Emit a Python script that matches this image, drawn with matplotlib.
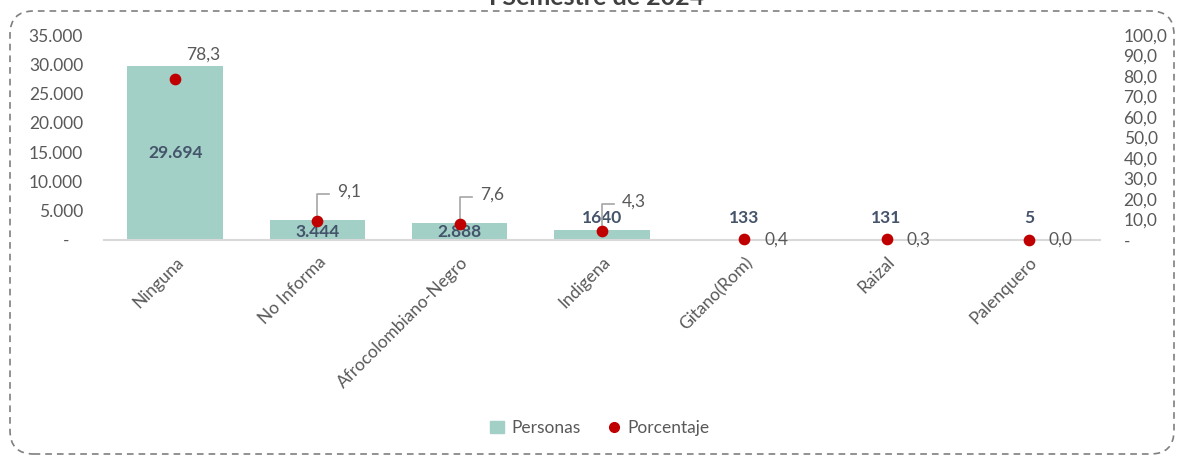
import matplotlib.pyplot as plt
import matplotlib.transforms as mtransforms
from matplotlib.patches import FancyBboxPatch
from matplotlib.lines import Line2D
from matplotlib.patches import Patch

plt.rcParams['font.family'] = ['Lato', 'DejaVu Sans']

categorias = ["Ninguna", "No Informa", "Afrocolombiano-Negro", "Indigena",
              "Gitano(Rom)", "Raizal", "Palenquero"]
personas = [29694, 3444, 2888, 1640, 133, 131, 5]
etiquetas_personas = ["29.694", "3.444", "2.888", "1640", "133", "131", "5"]
porcentaje = [78.3, 9.1, 7.6, 4.3, 0.4, 0.3, 0.0]

bar_color = "#A2CFC6"
dot_color = "#C00000"
lbl_color = "#44546A"
tick_color = "#595959"
fs = 12.5

fig = plt.figure(figsize=(11.79, 4.57), dpi=100)
ax = fig.add_axes([104 / 1179, 1 - 240 / 457, (1100 - 104) / 1179, 205 / 457])
ax2 = ax.twinx()

x = list(range(len(categorias)))
ax.bar(x, personas, width=0.67, color=bar_color, zorder=2)
ax.set_xlim(-0.5, len(categorias) - 0.5)
ax.set_ylim(0, 35000)
ax.set_yticks(range(0, 35001, 5000))
ax.set_yticklabels(["-   "] + [f"{v:,}".replace(",", ".") for v in range(5000, 35001, 5000)])
ax.set_xticks(x)
ax.set_xticklabels(categorias, rotation=45, ha="right", rotation_mode="anchor")

ax2.set_ylim(0, 100)
ax2.set_yticks(range(0, 101, 10))
ax2.set_yticklabels(["-"] + [f"{v},0" for v in range(10, 101, 10)])
ax2.scatter(x, porcentaje, s=55, color=dot_color, zorder=5, clip_on=False)

for a in (ax, ax2):
    for s in ["top", "right", "left"]:
        a.spines[s].set_visible(False)
    a.spines["bottom"].set_color("#D9D9D9")
    a.spines["bottom"].set_linewidth(1.5)
    a.tick_params(length=0, colors=tick_color, labelsize=fs)
ax.tick_params(axis="y", pad=15)
ax.tick_params(axis="x", pad=10)
ax2.tick_params(axis="y", pad=17)
ax2.spines["bottom"].set_visible(False)

# etiquetas de personas
for i, v in enumerate(personas):
    if v > 20000:
        ax.text(i, v / 2, etiquetas_personas[i], ha="center", va="center",
                fontsize=fs, fontweight="bold", color=lbl_color, zorder=6)
    elif v > 2000:
        ax.text(i, 1350, etiquetas_personas[i], ha="center", va="center",
                fontsize=fs, fontweight="bold", color=lbl_color, zorder=6)
    else:
        ax.text(i, 3750, etiquetas_personas[i], ha="center", va="center",
                fontsize=fs, fontweight="bold", color=lbl_color, zorder=6)

# etiquetas de porcentaje
inv = ax2.transData.inverted()
for i, p in enumerate(porcentaje):
    lab = f"{p:.1f}".replace(".", ",")
    base = ax2.transData.transform((i, p))
    if p > 50:
        ax2.text(i + 0.2, p + 12, lab, ha="center", va="center",
                 fontsize=fs, color=tick_color)
    elif p > 1:
        pts = [(base[0], base[1] + 6), (base[0], base[1] + 27), (base[0] + 12, base[1] + 27)]
        dp = [inv.transform(q) for q in pts]
        ax2.plot([q[0] for q in dp], [q[1] for q in dp], color="#A6A6A6", lw=1.2, zorder=4)
        tx, ty = inv.transform((base[0] + 20, base[1] + 30))
        ax2.text(tx, ty, lab, ha="left", va="center", fontsize=fs, color=tick_color)
    else:
        tx, ty = inv.transform((base[0] + 20, base[1]))
        ax2.text(tx, ty, lab, ha="left", va="center", fontsize=fs, color=tick_color)

# leyenda
handles = [Patch(color=bar_color, label="Personas"),
           Line2D([], [], marker="o", ls="", color=dot_color, markersize=7, label="Porcentaje")]
fig.legend(handles=handles, loc="center", bbox_to_anchor=(600 / 1179, 1 - 428 / 457),
           ncol=2, frameon=False, fontsize=fs, labelcolor=tick_color,
           handlelength=0.8, handletextpad=0.4, columnspacing=1.5)

# titulo recortado
fig.text(597 / 1179, 1 - 5 / 457, "I Semestre de 2024", ha="center", va="baseline",
         fontsize=18, fontweight="bold", color="#404040")

# borde punteado
border = FancyBboxPatch((10 / 1179, 3 / 457), 1164 / 1179, 443 / 457,
                        boxstyle="round,pad=0,rounding_size=0.02",
                        transform=fig.transFigure, fill=False, ec="#7F7F7F",
                        lw=1.2, ls=(0, (4, 3)), mutation_aspect=1179 / 457)
fig.patches.append(border)

fig.savefig("out.png", dpi=100)
